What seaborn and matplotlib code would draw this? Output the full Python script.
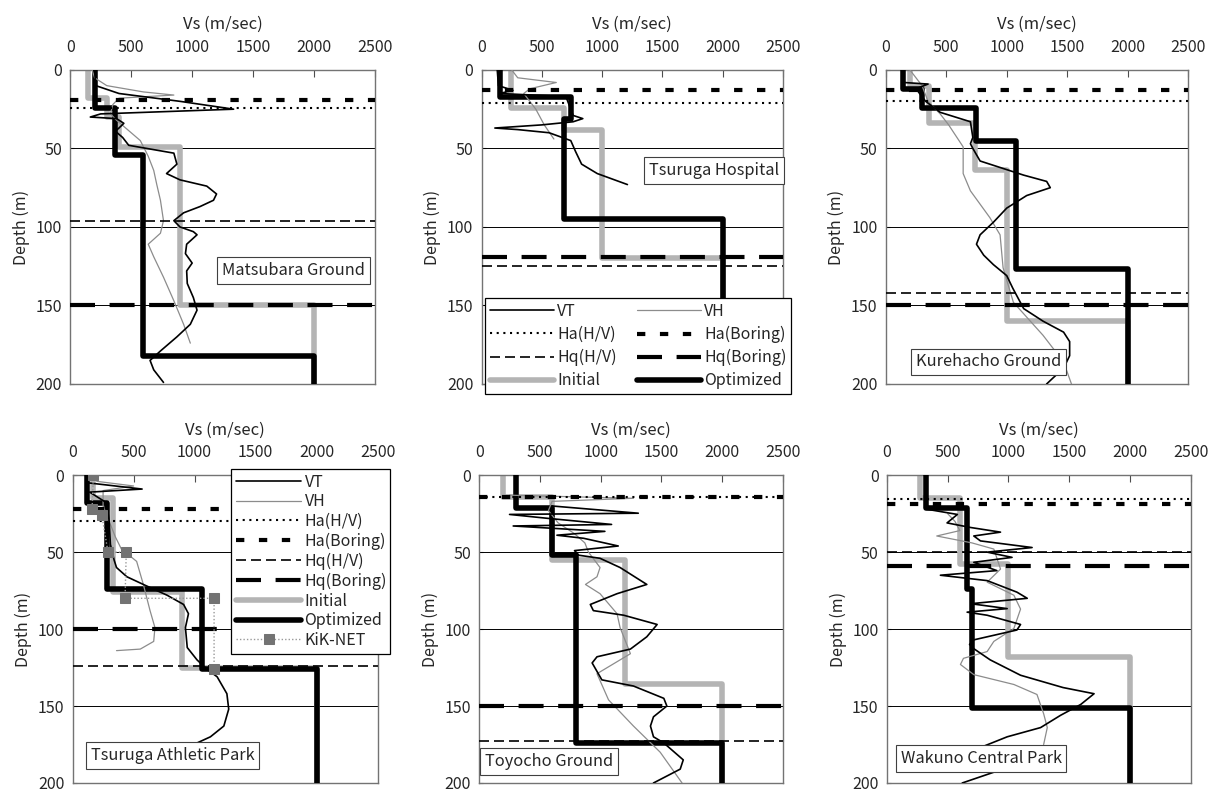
import numpy as np
import matplotlib
matplotlib.use("Agg")
import matplotlib.pyplot as plt
import seaborn as sns

# Site names (one panel each)
site_names = ["Matsubara Ground", "Tsuruga Hospital", "Kurehacho Ground",
              "Tsuruga Athletic Park", "Toyocho Ground", "Wakuno Central Park"]

# Layer boundary depths (m) per site
ha_hv = [24.5, 21, 20, 30, 14, 15.5]
ha_boring = [19, 12.7, 13, 22, 14, 19]
hq_hv = [96, 125, 142, 124, 173, 50]
hq_boring = [150, 119, 150, 100, 150, 59]

# Initial / optimized layered models: Vs of each layer and layer boundaries
init_vs = [[150, 300, 400, 900, 2000], [240, 680, 1000, 2000],
           [200, 360, 740, 1000, 2000], [170, 335, 900, 2000],
           [195, 600, 1200, 2000], [270, 600, 1000, 2000]]
init_bounds = [[0, 18, 30, 49, 150, 200], [0, 24, 38, 120, 200],
               [0, 10, 34, 64, 160, 200], [0, 15, 76, 125, 200],
               [0, 14, 55, 136, 200], [0, 15, 58, 118, 200]]
opt_vs = [[200, 370, 600, 2000], [150, 740, 680, 2000],
          [140, 300, 750, 1080, 2000], [115, 280, 1060, 2000],
          [300, 600, 800, 2000], [320, 660, 700, 2000]]
opt_bounds = [[0, 24, 54, 182, 200], [0, 17, 31, 95, 200],
              [0, 12, 24, 45, 127, 200], [0, 18, 74, 126, 200],
              [0, 21, 52, 174, 200], [0, 21, 74, 151, 200]]

# VT / VH profiles
matsubara_vt_depth = [0, 10, 15, 20, 25, 28, 30, 31, 34, 37, 39, 43, 48, 53, 60, 66, 70, 74, 79, 83,
                      87, 91, 96, 100, 103, 105, 111, 117, 123, 128, 136, 145, 153, 162, 170, 179,
                      185, 191, 199]
matsubara_vt_vs = [200, 210, 400, 900, 1340, 250, 165, 380, 440, 400, 370, 430, 480, 850, 875, 790,
                   900, 1120, 1200, 1175, 1065, 930, 850, 900, 1010, 1040, 955, 945, 1000, 955, 960,
                   1010, 1040, 985, 875, 740, 655, 685, 765]
matsubara_vh_depth = [0, 5, 10, 14, 16, 18, 22, 28, 32, 36, 45, 55, 64, 73, 83, 96, 104, 111, 119,
                      132, 147, 162, 174]
matsubara_vh_vs = [180, 200, 300, 600, 850, 400, 350, 330, 380, 440, 575, 640, 685, 710, 740, 765,
                   740, 640, 685, 765, 850, 930, 985]

hospital_vt_depth = [0, 10, 13, 15, 17, 25, 29, 31, 33, 35, 37, 38, 40, 45, 52, 60, 66, 73]
hospital_vt_vs = [130, 140, 260, 150, 700, 740, 760, 840, 760, 500, 110, 300, 560, 740, 780, 830,
                  960, 1210]
hospital_vh_depth = [0, 5, 8, 12, 15, 20, 25, 35, 44]
hospital_vh_vs = [250, 300, 620, 400, 350, 400, 450, 520, 600]

kurehacho_vt_depth = [0, 8, 9, 12, 20, 27, 33, 43, 47, 50, 58, 61, 67, 71, 75, 80, 88, 97, 105, 111,
                      118, 124, 131, 139, 152, 160, 167, 173, 182, 190, 196, 200]
kurehacho_vt_vs = [140, 150, 350, 250, 330, 450, 700, 720, 700, 720, 780, 900, 1140, 1330, 1360,
                   1165, 1000, 890, 780, 750, 810, 890, 1000, 1050, 1140, 1300, 1470, 1520, 1520,
                   1470, 1385, 1330]
kurehacho_vh_depth = [0, 10, 20, 28, 35, 49, 66, 77, 94, 105, 126, 148, 169, 186, 200]
kurehacho_vh_vs = [200, 300, 350, 450, 520, 640, 640, 700, 860, 945, 970, 1055, 1300, 1470, 1535]

athletic_vt_depth = [0, 5, 9, 11, 18, 30, 45, 55, 60, 66, 71, 78, 84, 90, 99, 112, 120, 126, 131,
                     142, 152, 163, 170, 174]
athletic_vt_vs = [120, 130, 570, 140, 280, 300, 310, 340, 360, 445, 580, 775, 910, 950, 925, 940,
                  1020, 1100, 1185, 1265, 1280, 1240, 1130, 1020]
athletic_vh_depth = [0, 4, 7, 10, 20, 30, 40, 48, 56, 71, 88, 99, 108, 113, 114]
athletic_vh_vs = [150, 200, 500, 250, 250, 300, 350, 400, 525, 580, 635, 675, 665, 555, 360]
athletic_kik_depth = [0, 22, 26, 50, 50, 80, 80, 126]
athletic_kik_vs = [170, 160, 240, 290, 440, 430, 1160, 1160]

toyocho_vt_depth = [20, 24.7, 25.5, 28, 32, 33, 36.5, 39, 41, 46, 49, 52, 54, 60, 71, 77, 84, 88, 91,
                    97, 105, 113, 118, 122, 133, 137, 145, 150, 157, 163, 170, 174, 185, 191, 200]
toyocho_vt_vs = [600, 1310, 250, 560, 1090, 280, 1035, 640, 860, 1145, 785, 820, 995, 1160, 1380,
                 1135, 915, 940, 1190, 1465, 1380, 1245, 970, 930, 1010, 1270, 1520, 1545, 1435,
                 1410, 1435, 1520, 1680, 1655, 1435]
toyocho_vh_depth = [13, 15, 17, 23, 31, 38, 44, 50, 60, 66, 71, 77, 90, 99, 116, 129, 146, 163, 180,
                    200]
toyocho_vh_vs = [250, 1270, 600, 570, 650, 785, 870, 900, 995, 970, 875, 995, 1135, 1160, 1245, 970,
                 1065, 1270, 1490, 1670]

wakuno_vt_depth = [22, 25.5, 31, 34, 37, 39.5, 42.7, 47, 50, 53.4, 56.6, 62, 65, 68.5, 76, 80, 83.5,
                   86.7, 89, 91, 97, 100.6, 107, 110, 113, 120, 130, 138, 142, 149, 156, 164, 170,
                   176, 186, 193, 200]
wakuno_vt_vs = [320, 580, 495, 690, 935, 715, 770, 1195, 825, 1030, 715, 905, 440, 825, 1070, 1155,
                690, 990, 660, 825, 1100, 1070, 715, 680, 720, 850, 1100, 1450, 1705, 1595, 1430,
                1265, 990, 800, 900, 880, 620]
wakuno_vh_depth = [25, 30, 36, 39.5, 44, 48, 61, 69.5, 78, 87, 99.6, 108, 114.6, 119, 123, 129.6,
                   136, 142.5, 155, 164, 175]
wakuno_vh_vs = [500, 560, 600, 410, 700, 880, 935, 825, 1045, 1100, 1045, 880, 825, 630, 605, 715,
                1045, 1235, 1290, 1320, 1290]

vt_profiles = [(matsubara_vt_vs, matsubara_vt_depth), (hospital_vt_vs, hospital_vt_depth),
               (kurehacho_vt_vs, kurehacho_vt_depth), (athletic_vt_vs, athletic_vt_depth),
               (toyocho_vt_vs, toyocho_vt_depth), (wakuno_vt_vs, wakuno_vt_depth)]
vh_profiles = [(matsubara_vh_vs, matsubara_vh_depth), (hospital_vh_vs, hospital_vh_depth),
               (kurehacho_vh_vs, kurehacho_vh_depth), (athletic_vh_vs, athletic_vh_depth),
               (toyocho_vh_vs, toyocho_vh_depth), (wakuno_vh_vs, wakuno_vh_depth)]

sns.set_style("white")
plt.rcParams['font.family'] = ['Noto Sans CJK JP', 'DejaVu Sans']
plt.rcParams['axes.unicode_minus'] = False


def steps(vs, bounds):
    x = np.repeat(vs, 2)
    y = np.repeat(bounds, 2)[1:-1]
    return x, y


def profile(ax, x, y, **kw):
    sns.lineplot(x=x, y=y, sort=False, estimator=None, orient='y', legend=False, ax=ax, **kw)


def draw_site(ax, i):
    for g in (50, 100, 150):
        ax.axhline(g, color='black', lw=0.7, zorder=1)

    x, y = steps(init_vs[i], init_bounds[i])
    profile(ax, x, y, color='#b4b4b4', lw=4, label='Initial', zorder=2)
    x, y = steps(opt_vs[i], opt_bounds[i])
    profile(ax, x, y, color='black', lw=4, label='Optimized', zorder=3)

    profile(ax, vh_profiles[i][0], vh_profiles[i][1], color='0.55', lw=0.9, label='VH', zorder=4)
    profile(ax, vt_profiles[i][0], vt_profiles[i][1], color='black', lw=1.2, label='VT', zorder=5)

    ax.axhline(ha_hv[i], color='black', lw=1.5, linestyle=(0, (1, 2.2)), label='Ha(H/V)', zorder=4)
    ax.axhline(ha_boring[i], color='black', lw=3, linestyle=(0, (2, 3.5)), label='Ha(Boring)', zorder=4)
    ax.axhline(hq_hv[i], color='black', lw=1.2, linestyle=(0, (6, 3)), label='Hq(H/V)', zorder=4)
    ax.axhline(hq_boring[i], color='black', lw=3, linestyle=(0, (6, 3.5)), label='Hq(Boring)', zorder=4)

    ax.set_xlim(0, 2500)
    ax.set_ylim(200, 0)
    ax.set_xticks(np.arange(0, 2501, 500))
    ax.set_yticks(np.arange(0, 201, 50))
    ax.xaxis.tick_top()
    ax.xaxis.set_label_position('top')
    ax.set_xlabel('Vs (m/sec)', fontsize=12, labelpad=7)
    ax.set_ylabel('Depth (m)', fontsize=11.5, labelpad=4)
    ax.tick_params(axis='x', top=True, bottom=False, labeltop=True, labelbottom=False,
                   direction='in', length=5, width=0.8, color='0.3', pad=10, labelsize=11.5)
    ax.tick_params(axis='y', left=True, direction='in', length=3, width=0.8, color='0.3',
                   pad=6, labelsize=11.5)
    for s in ax.spines.values():
        s.set_color('0.45')
        s.set_linewidth(1.0)


fig = plt.figure(figsize=(12.1, 7.92), dpi=100)

rects = [(0.058, 0.5152, 0.252, 0.3965), (0.398, 0.5152, 0.249, 0.3965), (0.732, 0.5152, 0.250, 0.3965),
         (0.060, 0.0114, 0.252, 0.3886), (0.396, 0.0114, 0.251, 0.3886), (0.733, 0.0114, 0.251, 0.3886)]
label_xy = [(1830, 128), (1930, 64), (850, 186), (820, 182), (575, 186), (775, 184)]

axes = []
for i, r in enumerate(rects):
    ax = fig.add_axes(r)
    draw_site(ax, i)
    ax.text(label_xy[i][0], label_xy[i][1], site_names[i], ha='center', va='center', fontsize=11.8,
            zorder=10, bbox=dict(boxstyle='square,pad=0.3', fc='white', ec='0.25', lw=0.8))
    axes.append(ax)

# KiK-NET profile only at Tsuruga Athletic Park
profile(axes[3], athletic_kik_vs, athletic_kik_depth, color='0.6', lw=1.0, linestyle=(0, (1, 1.5)),
        marker='s', markersize=6.5, markerfacecolor='0.45', markeredgecolor='0.45', label='KiK-NET', zorder=6)

leg_kw = dict(frameon=True, fancybox=False, framealpha=1, edgecolor='black', fontsize=11.5,
              handletextpad=0.2, borderpad=0.3, borderaxespad=0, loc='upper left',
              bbox_transform=fig.transFigure, mode='expand')

h, l = axes[1].get_legend_handles_labels()
hd = dict(zip(l, h))
order = ['VT', 'Ha(H/V)', 'Hq(H/V)', 'Initial', 'VH', 'Ha(Boring)', 'Hq(Boring)', 'Optimized']
leg = axes[1].legend([hd[n] for n in order], order, ncol=2, handlelength=4.0, labelspacing=0.38,
                     columnspacing=1.4, bbox_to_anchor=(0.401, 0.4987, 0.253, 0.125), **leg_kw)
leg.get_frame().set_linewidth(0.9)
leg.set_zorder(20)

h, l = axes[3].get_legend_handles_labels()
hd = dict(zip(l, h))
order = ['VT', 'VH', 'Ha(H/V)', 'Ha(Boring)', 'Hq(H/V)', 'Hq(Boring)', 'Initial', 'Optimized', 'KiK-NET']
leg = axes[3].legend([hd[n] for n in order], order, ncol=1, handlelength=4.1, labelspacing=0.17,
                     bbox_to_anchor=(0.191, 0.158, 0.131, 0.25), **leg_kw)
leg.get_frame().set_linewidth(0.9)
leg.set_zorder(20)

fig.savefig('out.png', dpi=100)
